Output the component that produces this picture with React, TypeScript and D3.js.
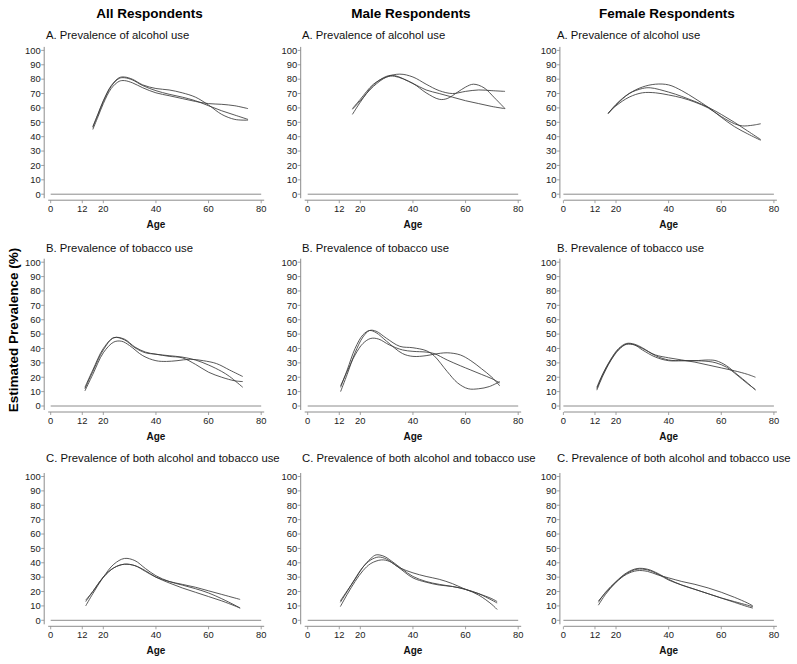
import React from "react";
import * as d3 from "d3";

type Pt = [number, number];

// ---- Text ----
const columnTitles = ["All Respondents", "Male Respondents", "Female Respondents"];
const rowTitles = [
  "A. Prevalence of alcohol use",
  "B. Prevalence of tobacco use",
  "C. Prevalence of both alcohol and tobacco use",
];
const xTicks = [0, 12, 20, 40, 60, 80];
const yTicks = [0, 10, 20, 30, 40, 50, 60, 70, 80, 90, 100];
const xLabel = "Age";
const yLabel = "Estimated Prevalence (%)";

// ---- Data: [age, prevalence] ----
// A. Alcohol
const allAlc1: Pt[] = [[16,45],[18,54],[20,63],[23,73.5],[26,78.5],[28,79],[31,77.5],[35,74],[40,70.5],[45,68.5],[50,66.5],[55,64.5],[60,63],[65,62.5],[70,61.5],[75,59.5]];
const allAlc2: Pt[] = [[16,47],[18,56],[20,65],[23,75.5],[26,81],[28,81.5],[31,80],[35,76],[40,73.5],[45,72.5],[50,70.5],[55,67.5],[60,62],[65,55.5],[70,52],[75,51.5]];
const allAlc3: Pt[] = [[16,46.5],[18,55.5],[20,64.5],[23,75],[26,80.5],[28,81],[31,79.5],[35,75.5],[40,72],[45,69.5],[50,67.5],[55,65],[60,61.5],[65,58],[70,55],[75,52]];

const maleAlc1: Pt[] = [[17,55.5],[20,64],[25,76],[30,82],[33,82.5],[40,77],[45,72.5],[50,70],[55,67.5],[60,65],[65,63],[70,61],[75,59.5]];
const maleAlc2: Pt[] = [[17,59.5],[20,66],[25,76.5],[30,81.5],[33,82],[40,77],[45,70.5],[50,66],[53,66.5],[57,71],[60,74.5],[63,76.5],[67,74],[71,67],[75,59.5]];
const maleAlc3: Pt[] = [[17,59],[20,65],[25,75],[30,81.5],[35,83.5],[40,81.5],[45,76.5],[50,72],[55,70],[60,71.5],[65,72.5],[70,72],[75,71.5]];

const femAlc1: Pt[] = [[17,56],[20,62],[25,70],[30,74.5],[35,76.5],[40,76],[45,72],[50,66.5],[55,60.5],[60,53.5],[65,47],[70,42],[75,37.5]];
const femAlc2: Pt[] = [[17,56],[20,62.5],[25,70],[30,73.5],[33,74],[40,71],[45,68],[50,64.5],[55,60.5],[60,55.5],[65,50],[70,44],[75,38]];
const femAlc3: Pt[] = [[17,56.5],[20,61.5],[25,67.5],[30,70.5],[35,70.5],[40,69],[45,67],[50,64],[55,60],[60,54],[65,49],[68,47.5],[72,48],[75,49]];

// B. Tobacco
const allTob1: Pt[] = [[13,10.5],[16,22],[20,37],[24,44.5],[27,45],[30,42],[35,35],[40,31.5],[44,31],[48,31.5],[53,32.5],[58,31.5],[63,29.5],[68,25],[73,20.5]];
const allTob2: Pt[] = [[13,12],[16,24],[20,39],[24,47.5],[28,46],[32,40.5],[36,37],[40,36],[45,34.5],[50,33.5],[55,29],[60,23.5],[65,20],[70,17.5],[73,17]];
const allTob3: Pt[] = [[13,13],[16,25],[20,40],[24,47.5],[28,46.5],[32,41],[36,37.5],[40,36],[45,35],[50,34],[55,32],[60,28.5],[65,24],[68,20.5],[73,13]];

const maleTob1: Pt[] = [[12.5,10],[15,22],[18,37],[21,48],[23.5,52.5],[26,52],[30,47],[35,41.5],[40,40.5],[45,38.5],[48,35],[53,24],[57,16],[61,12],[65,12],[69,13.5],[73,17]];
const maleTob2: Pt[] = [[12.5,13],[15,25],[18,40],[21,49.5],[23.5,52.5],[26,51],[30,45],[36,36.5],[40,34.5],[45,35],[48,36],[53,37],[58,35.5],[62,31.5],[66,26],[70,20],[73,14]];
const maleTob3: Pt[] = [[12.5,14],[15,24],[18,35.5],[21,43.5],[24,47],[27,46.5],[31,42.5],[36,39],[40,38],[45,37.5],[48,36.5],[53,32],[58,28],[62,25],[66,22],[70,19],[73,16]];

const femTob1: Pt[] = [[12.7,12],[15,22],[18,32],[21,39.5],[24,43],[27,42.5],[30,40],[35,35.5],[40,33.5],[45,32],[50,30.5],[55,28.5],[60,26.5],[65,24.5],[70,22],[73,20]];
const femTob2: Pt[] = [[12.7,11],[15,21],[18,31.5],[21,39],[24,43],[27,42.5],[30,39],[35,34],[40,31.5],[45,31.5],[50,31.5],[55,32],[58,31.5],[62,28],[66,22],[70,16],[73,11]];
const femTob3: Pt[] = [[12.7,13],[15,22.5],[18,32.5],[21,40],[24,43.5],[27,43],[30,40.5],[35,35],[40,32],[45,31.5],[50,31.5],[55,31],[58,30],[62,27],[66,21.5],[70,15.5],[73,11.5]];

// C. Both
const allBoth1: Pt[] = [[13.3,14],[16,20],[20,30],[24,36.5],[28,39],[32,38],[36,34],[40,30],[45,27],[50,25],[55,23],[60,20.5],[65,18],[70,15.5],[72,14.5]];
const allBoth2: Pt[] = [[13.3,10],[16,18.5],[20,30],[24,39],[28,43],[32,41.5],[36,36],[40,31],[45,27],[50,24.5],[55,22],[60,19],[65,15],[70,10.5],[72,8.5]];
const allBoth3: Pt[] = [[13.3,13],[16,20],[20,30],[24,36.5],[28,39],[32,38],[36,34.5],[40,30],[45,26],[50,22.5],[55,19.5],[60,16.5],[65,13.5],[70,10],[72,8.5]];

const maleBoth1: Pt[] = [[12.4,13.5],[15,20.5],[18,28.5],[21,37],[24,43],[26,45.5],[29,44.5],[32,41],[36,35.5],[40,30.5],[45,27],[50,25],[55,23.5],[60,21.5],[65,17.5],[70,11],[72,7.5]];
const maleBoth2: Pt[] = [[12.4,12.5],[15,20],[18,29],[21,37],[24,42],[27,44],[30,42.5],[34,37.5],[40,29.5],[45,26.5],[50,24.5],[55,23.5],[60,21.5],[65,18.5],[70,14],[72,12]];
const maleBoth3: Pt[] = [[12.4,9.5],[15,18],[18,27],[21,34.5],[24,39.5],[28,42],[31,41],[35,36.5],[40,33],[45,30.5],[50,28.5],[55,25.5],[60,21.5],[65,18.5],[70,15],[72,13]];

const femBoth1: Pt[] = [[13.3,13.5],[16,19],[20,26.5],[24,32],[28,34.5],[32,34],[36,31.5],[40,29.5],[45,27],[50,25],[55,22.5],[60,19.5],[65,16],[70,12],[72,10]];
const femBoth2: Pt[] = [[13.3,12.5],[16,19.5],[20,27],[24,33],[28,36],[32,35.5],[36,32.5],[40,28.5],[45,24.5],[50,21.5],[55,18.5],[60,15.5],[65,13],[70,10.5],[72,9.5]];
const femBoth3: Pt[] = [[13.3,10.5],[16,18],[20,26.5],[24,32.5],[28,35.5],[32,35],[36,32],[40,28],[45,24.5],[50,21.5],[55,18.5],[60,15.5],[65,12.5],[70,9.5],[72,8.5]];

const panels: Pt[][][][] = [
  [[allAlc1, allAlc2, allAlc3], [maleAlc1, maleAlc2, maleAlc3], [femAlc1, femAlc2, femAlc3]],
  [[allTob1, allTob2, allTob3], [maleTob1, maleTob2, maleTob3], [femTob1, femTob2, femTob3]],
  [[allBoth1, allBoth2, allBoth3], [maleBoth1, maleBoth2, maleBoth3], [femBoth1, femBoth2, femBoth3]],
];

// ---- Layout ----
const W = 797, H = 664;
const colX0 = [50.7, 307.7, 563.4];
const colAxisGap = [6.5, 7, 3.5];
const colHeaderX = [149.5, 411, 667];
const colTitleX = [46, 302, 557];
const rowY0 = [194.2, 406, 620.3];
const rowTitleY = [38.7, 251.7, 461.7];
const plotW = 210.5, plotH = 143.8;
const FONT = "'Liberation Sans', Arial, Helvetica, sans-serif";
const AXIS = "#8c8c8c";
const LINE = "#3a3a3a";

function Panel({ r, c }: { r: number; c: number }) {
  const x = d3.scaleLinear().domain([0, 80]).range([colX0[c], colX0[c] + plotW]);
  const y = d3.scaleLinear().domain([0, 100]).range([rowY0[r], rowY0[r] - plotH]);
  const ax = colX0[c] - colAxisGap[c];
  const xAxisY = y(0) + 6;
  const line = d3
    .line<Pt>()
    .x((d) => x(d[0]))
    .y((d) => y(d[1]))
    .curve(d3.curveCatmullRom.alpha(0.5));
  return (
    <g>
      <text x={colTitleX[c]} y={rowTitleY[r]} fontSize={11.3} fill="#111">{rowTitles[r]}</text>
      {/* y axis */}
      <line x1={ax} x2={ax} y1={y(100) - 3.5} y2={y(0) + 4} stroke={AXIS} strokeWidth={1} />
      {yTicks.map((t) => (
        <g key={"y" + t}>
          <line x1={ax - 3} x2={ax} y1={y(t)} y2={y(t)} stroke={AXIS} strokeWidth={0.8} />
          <text x={ax - 3.5} y={y(t) + 3.3} fontSize={9.4} textAnchor="end" fill="#222">{t}</text>
        </g>
      ))}
      {/* x axis */}
      <line x1={ax + 4} x2={x(80) + 3} y1={xAxisY} y2={xAxisY} stroke={AXIS} strokeWidth={1} />
      {xTicks.map((t) => (
        <g key={"x" + t}>
          <line x1={x(t)} x2={x(t)} y1={xAxisY} y2={xAxisY + 3} stroke={AXIS} strokeWidth={0.8} />
          <text x={x(t)} y={xAxisY + 11.5} fontSize={9.4} textAnchor="middle" fill="#222">{t}</text>
        </g>
      ))}
      <text x={x(40)} y={y(0) + 33.5} fontSize={10} fontWeight="bold" textAnchor="middle" fill="#111">{xLabel}</text>
      {/* zero reference line */}
      <line x1={x(0)} x2={x(80)} y1={y(0)} y2={y(0)} stroke={AXIS} strokeWidth={1} />
      {panels[r][c].map((s, i) => (
        <path key={i} d={line(s) || ""} fill="none" stroke={LINE} strokeWidth={0.85} />
      ))}
    </g>
  );
}

export default function App() {
  return (
    <svg
      width={W}
      height={H}
      viewBox={`0 0 ${W} ${H}`}
      style={{ position: "absolute", left: 0, top: 0, background: "#fff", fontFamily: FONT }}
    >
      <rect width={W} height={H} fill="#fff" />
      {columnTitles.map((t, c) => (
        <text key={t} x={colHeaderX[c]} y={18} fontSize={13.5} fontWeight="bold" textAnchor="middle" fill="#000">{t}</text>
      ))}
      <text
        transform={`translate(18,330) rotate(-90)`}
        fontSize={13.5}
        fontWeight="bold"
        textAnchor="middle"
        fill="#000"
      >
        {yLabel}
      </text>
      {[0, 1, 2].map((r) => [0, 1, 2].map((c) => <Panel key={r + "-" + c} r={r} c={c} />))}
    </svg>
  );
}
